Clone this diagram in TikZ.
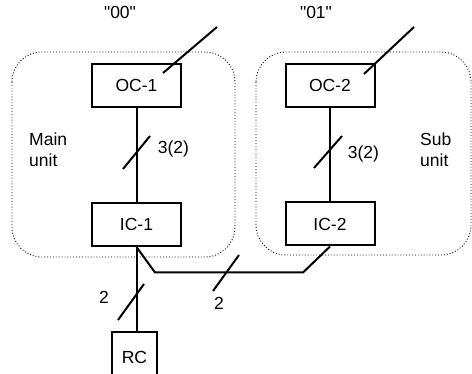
\documentclass[tikz,border=0pt]{standalone}
\usepackage{fontspec}
\setmainfont{Liberation Sans}[Ligatures=TeXOff]
\usetikzlibrary{calc}
\begin{document}
\begin{tikzpicture}[x=1pt,y=-1pt,
  unitbox/.style={draw,line width=2pt,minimum width=89pt,minimum height=43pt,inner sep=0pt,font=\fontsize{17.5}{20}\selectfont},
  group/.style={draw,dotted,line width=0.9pt,rounded corners=30pt},
  wire/.style={line width=2pt},
  slash/.style={line width=2pt},
  lbl/.style={font=\fontsize{17.5}{21}\selectfont,inner sep=0pt}]
\useasboundingbox (0,0) rectangle (472,374);
% groups
\draw[group] (12,52) rectangle (235,257);
\draw[group] (256,52) rectangle (471,255);
% boxes
\node[unitbox] (oc1) at (136.5,85.5) {OC-1};
\node[unitbox] (oc2) at (330,85.5) {OC-2};
\node[unitbox] (ic1) at (136.5,224.5) {IC-1};
\node[unitbox] (ic2) at (330,224) {IC-2};
\node[unitbox,minimum width=45pt,minimum height=50pt,anchor=north] (rc) at (134.5,331) {RC};
% texts
\node[lbl] (q1) at (120,12) {"00"};
\node[lbl] (q2) at (316,12) {"01"};
\node[lbl,align=left,anchor=west] (main) at (29,150) {Main\\unit};
\node[lbl,align=left,anchor=west] (sub) at (420,150) {Sub\\unit};
\node[lbl] (n1) at (173.5,149) {3(2)};
\node[lbl] (n2) at (363.5,154) {3(2)};
\node[lbl] (n3) at (104,297) {2};
\node[lbl] (n4) at (219,303) {2};
% external lines
\coordinate (e1a) at (163,73);
\coordinate (e1b) at (217,27);
\coordinate (e2a) at (364,74);
\coordinate (e2b) at (414,27);
\draw[wire] (e1a) -- (e1b);
\draw[wire] (e2a) -- (e2b);
% connectors
\draw[wire] (oc1.south) -- (ic1.south |- ic1.north);
\draw[wire] (oc2.south) -- (ic2.south |- ic2.north);
\draw[wire] (ic1.south) -- (ic1.south |- rc.north);
\coordinate (b1) at (155,272.5);
\coordinate (b2) at (303,272.5);
\draw[wire] (ic1.south) -- (b1) -- (b2) -- (ic2.south);
% slashes
\draw[slash] (123,169) -- (150,136);
\draw[slash] (314,168) -- (342,136);
\draw[slash] (118,320) -- (144,284);
\draw[slash] (213,291) -- (239,255);
\end{tikzpicture}
\end{document}
